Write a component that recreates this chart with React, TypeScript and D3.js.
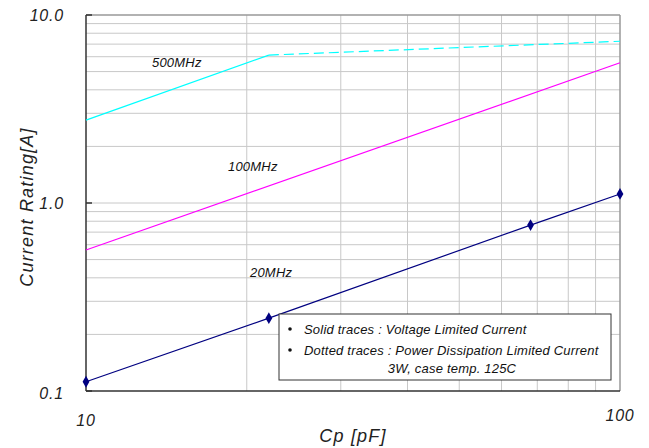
import React from "react";
import * as d3 from "d3";

const xTicksMajor = [10, 100];
const yTickLabels = ["0.1", "1.0", "10.0"];
const yTicksMajor = [0.1, 1, 10];

const cp20 = [10, 22, 68, 100];
const cur20 = [0.112, 0.244, 0.763, 1.117];

const cp100 = [10, 100];
const cur100 = [0.562, 5.57];

const cp500Solid = [10, 22];
const cur500Solid = [2.76, 6.12];
const cp500Dash = [22, 100];
const cur500Dash = [6.12, 7.25];

const seriesLabels = ["500MHz", "100MHz", "20MHz"];
const legendLines = [
  "Solid traces : Voltage Limited Current",
  "Dotted traces : Power Dissipation Limited Current",
  "3W, case temp. 125C",
];

const W = 649;
const H = 448;
const L = 86, R = 620, T = 15, B = 391;
const FONT = "'Liberation Sans', Arial, sans-serif";

export default function App() {
  const x = d3.scaleLog().domain([10, 100]).range([L, R]);
  const y = d3.scaleLog().domain([0.1, 10]).range([B, T]);

  const xMinor: number[] = [];
  for (let v = 20; v <= 90; v += 10) xMinor.push(v);
  const yMinor: number[] = [];
  [0.1, 1].forEach((d) => {
    for (let k = 2; k <= 9; k++) yMinor.push(+(d * k).toFixed(2));
  });
  yMinor.push(1);

  const line = d3
    .line<[number, number]>()
    .x((d) => x(d[0]))
    .y((d) => y(d[1]));
  const zip = (a: number[], b: number[]) => a.map((v, i) => [v, b[i]] as [number, number]);

  const diamond = d3.symbol().type(d3.symbolDiamond).size(40)();

  return (
    <svg width={W} height={H} style={{ position: "absolute", left: 0, top: 0, background: "#fff" }}>
      <rect x={0} y={0} width={W} height={H} fill="#fff" />
      {/* grid */}
      {xMinor.map((v) => (
        <line key={"gx" + v} x1={x(v)} x2={x(v)} y1={T} y2={B} stroke="#c8c8c8" strokeWidth={1} />
      ))}
      {yMinor.map((v) => (
        <line key={"gy" + v} x1={L} x2={R} y1={y(v)} y2={y(v)} stroke="#c8c8c8" strokeWidth={1} />
      ))}
      {/* frame */}
      <line x1={L} x2={R} y1={T} y2={T} stroke="#999" strokeWidth={1.5} />
      <line x1={R} x2={R} y1={T} y2={B} stroke="#999" strokeWidth={1.5} />
      <line x1={L} x2={L} y1={T} y2={B} stroke="#333" strokeWidth={1.5} />
      <line x1={L} x2={R} y1={B} y2={B} stroke="#333" strokeWidth={1.5} />
      {yTicksMajor.map((v) => (
        <line key={"yt" + v} x1={L} x2={L + 6} y1={y(v)} y2={y(v)} stroke="#333" strokeWidth={1.5} />
      ))}

      {/* series */}
      <path d={line(zip(cp500Solid, cur500Solid)) || ""} fill="none" stroke="#00ffff" strokeWidth={1.2} />
      <path d={line(zip(cp500Dash, cur500Dash)) || ""} fill="none" stroke="#00ffff" strokeWidth={1.2} strokeDasharray="10,5" />
      <path d={line(zip(cp100, cur100)) || ""} fill="none" stroke="#ff00ff" strokeWidth={1.2} />
      <path d={line(zip(cp20, cur20)) || ""} fill="none" stroke="#000080" strokeWidth={1.2} />
      {cp20.map((c, i) => (
        <path key={"m" + i} d={diamond || ""} transform={`translate(${x(c)},${y(cur20[i])})`} fill="#000080" />
      ))}

      {/* series labels */}
      <g fontFamily={FONT} fontStyle="italic" fontSize={13} letterSpacing={0.2} fill="#111">
        <text x={152} y={67}>{seriesLabels[0]}</text>
        <text x={228} y={171}>{seriesLabels[1]}</text>
        <text x={250} y={277}>{seriesLabels[2]}</text>
      </g>

      {/* legend box */}
      <rect x={279} y={314} width={332} height={66} fill="#fff" stroke="#333" strokeWidth={1} />
      <g fontFamily={FONT} fontStyle="italic" fontSize={13} letterSpacing={0.2} fill="#111">
        <circle cx={290} cy={329} r={1.8} fill="#111" />
        <text x={304} y={333.5}>{legendLines[0]}</text>
        <circle cx={290} cy={350} r={1.8} fill="#111" />
        <text x={304} y={354.5}>{legendLines[1]}</text>
        <text x={452} y={372.5} textAnchor="middle">{legendLines[2]}</text>
      </g>

      {/* tick labels */}
      <g fontFamily={FONT} fontStyle="italic" fontSize={16} letterSpacing={0.8} fill="#222">
        {yTicksMajor.map((v, i) => (
          <text key={"yl" + v} x={64} y={y(v) + (v === 0.1 ? 8 : 6)} textAnchor="end">{yTickLabels[i]}</text>
        ))}
        {xTicksMajor.map((v) => (
          <text key={"xl" + v} x={x(v)} y={v === 10 ? 426 : 421} textAnchor="middle">{v}</text>
        ))}
      </g>

      {/* axis titles */}
      <g fontFamily={FONT} fontStyle="italic" fontSize={18} letterSpacing={1.2} fill="#222">
        <text x={353} y={442} textAnchor="middle">Cp [pF]</text>
        <text transform="translate(33,207) rotate(-90)" textAnchor="middle">Current Rating[A]</text>
      </g>
    </svg>
  );
}
